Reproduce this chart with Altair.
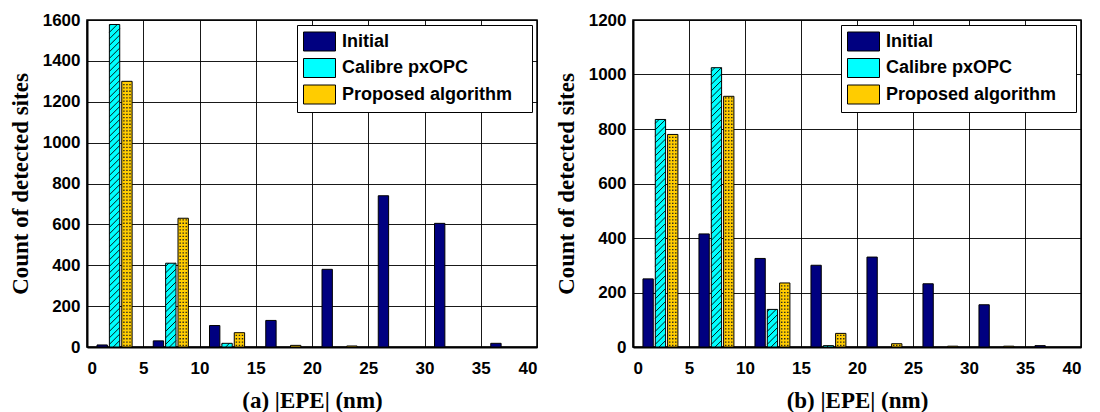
import altair as alt
import pandas as pd

SERIES = ["Initial", "Calibre pxOPC", "Proposed algorithm"]
COLORS = ["#000080", "#00FFFF", "#FFCC00"]
BIN_CENTERS = [2.5, 7.5, 12.5, 17.5, 22.5, 27.5, 32.5, 37.5]

A_INITIAL = [10, 30, 105, 130, 380, 740, 605, 18]
A_CALIBRE = [1578, 410, 18, 0, 0, 0, 0, 0]
A_PROPOSED = [1300, 630, 70, 8, 5, 0, 0, 0]

B_INITIAL = [250, 415, 325, 300, 330, 232, 155, 5]
B_CALIBRE = [835, 1025, 138, 5, 0, 0, 0, 0]
B_PROPOSED = [780, 920, 235, 50, 12, 3, 3, 0]

X_TICKS = list(range(0, 41, 5))
A_Y_TICKS = list(range(0, 1601, 200))
B_Y_TICKS = list(range(0, 1201, 200))
A_YMAX, B_YMAX = 1600, 1200
XMAX = 40
Y_TITLE = "Count of detected sites"

# style / layout
PLOT_H = 327
A_W, B_W = 450, 448
OFFSETS = [-1.15, -0.05, 1.05]
HALF = 0.46
HATCH_STEP_PX = 6.5


def build(initial, calibre, proposed):
    rows = []
    for s, off, vals in zip(SERIES, OFFSETS, [initial, calibre, proposed]):
        for c, v in zip(BIN_CENTERS, vals):
            if v > 0:
                mid = c + off
                rows.append(dict(series=s, mid=mid, x0=mid - HALF, x1=mid + HALF,
                                 value=v, zero=0))
    return pd.DataFrame(rows)


def hatch(df, ymax, width):
    ypp = ymax / PLOT_H
    xpp = XMAX / width
    out = []
    for _, r in df[df.series == SERIES[1]].iterrows():
        w = r.x1 - r.x0
        rise = w / xpp
        vpx = r.value / ypp
        ys = -rise
        while ys < vpx:
            tlo = max(0.0, -ys / rise)
            thi = min(1.0, (vpx - ys) / rise)
            if thi - tlo > 0.03:
                out.append(dict(x0=r.x0 + tlo * w, value=(ys + tlo * rise) * ypp,
                                x1=r.x0 + thi * w, yb=(ys + thi * rise) * ypp))
            ys += HATCH_STEP_PX
    return pd.DataFrame(out)


def dots(df, ymax):
    ypp = ymax / PLOT_H
    out = []
    for _, r in df[df.series == SERIES[2]].iterrows():
        if r.value / ypp < 2.5:
            continue
        for dx in (-0.27, 0.0, 0.27):
            out.append(dict(x0=r.mid + dx, value=ypp * 1.0, y1=r.value - ypp * 1.0))
    return pd.DataFrame(out)


def panel(initial, calibre, proposed, width, ymax, yticks, title):
    df = build(initial, calibre, proposed)
    hd = hatch(df, ymax, width)
    dd = dots(df, ymax)
    xs = alt.Scale(domain=[0, XMAX], nice=False, zero=False, padding=0)
    ys = alt.Scale(domain=[0, ymax], nice=False, padding=0)
    xax = alt.Axis(values=X_TICKS, title=title, format="d")
    yax = alt.Axis(values=yticks, title=Y_TITLE, format="d")
    bars = alt.Chart(df).mark_rect(stroke="black", strokeWidth=1).encode(
        x=alt.X("x0:Q", scale=xs, axis=xax),
        x2="x1:Q",
        y=alt.Y("value:Q", scale=ys, axis=yax),
        y2="zero:Q",
        color=alt.Color("series:N", scale=alt.Scale(domain=SERIES, range=COLORS),
                        legend=alt.Legend(title=None, labelExpr="datum.label + '\u2800'")),
    )
    hl = alt.Chart(hd).mark_rule(color="black", strokeWidth=0.9).encode(
        x=alt.X("x0:Q", scale=xs, axis=xax), x2="x1:Q",
        y=alt.Y("value:Q", scale=ys, axis=yax), y2="yb:Q",
    )
    dl = alt.Chart(dd).mark_rule(color="#222222", strokeWidth=1.4, strokeDash=[1.3, 2.0]).encode(
        x=alt.X("x0:Q", scale=xs, axis=xax),
        y=alt.Y("value:Q", scale=ys, axis=yax), y2="y1:Q",
    )
    return alt.layer(bars, hl, dl).properties(width=width, height=PLOT_H)


left = panel(A_INITIAL, A_CALIBRE, A_PROPOSED, A_W, A_YMAX, A_Y_TICKS, "(a) |EPE| (nm)")
right = panel(B_INITIAL, B_CALIBRE, B_PROPOSED, B_W, B_YMAX, B_Y_TICKS, "(b) |EPE| (nm)")

chart = (
    alt.hconcat(left, right, spacing=16)
    .resolve_scale(color="independent")
    .resolve_legend(color="independent")
    .properties(padding={"left": 0, "top": 2, "right": 0, "bottom": 0})
    .configure_view(stroke="black", strokeWidth=1.5)
    .configure_axis(
        domainColor="black", domainWidth=2,
        grid=True, gridColor="black", gridWidth=1, gridOpacity=0.9,
        ticks=False,
        labelFont="Liberation Sans", labelFontWeight="bold", labelFontSize=17, labelColor="black",
        titleFont="Liberation Serif", titleFontWeight="bold", titleFontSize=23, titleColor="black",
    )
    .configure_axisX(labelPadding=13, titlePadding=13)
    .configure_axisY(labelPadding=7, titlePadding=10)
    .configure_legend(
        orient="top-right", offset=5, strokeColor="black", fillColor="white", padding=6,
        labelFont="Liberation Sans", labelFontWeight="bold", labelFontSize=18, labelColor="black",
        labelLimit=400,
        symbolType="M-1,-0.95L2.2,-0.95L2.2,0.95L-1,0.95Z", symbolSize=400,
        symbolStrokeColor="black", symbolStrokeWidth=1, symbolOpacity=1,
        labelOffset=18, rowPadding=3.5,
    )
)

chart.save("out.html", embed_options={"renderer": "svg", "actions": False})
